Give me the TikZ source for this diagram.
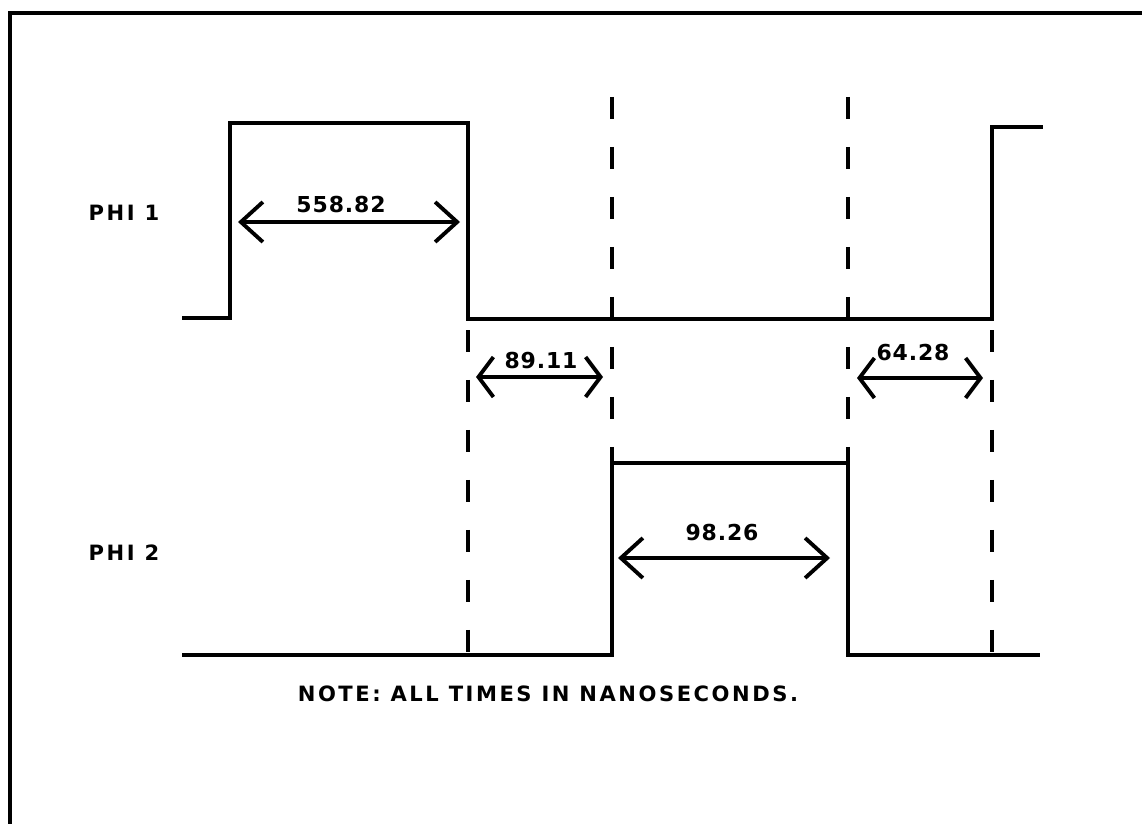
\documentclass[tikz,border=0pt]{standalone}
\usepackage{fontspec}
\newfontfamily\plotfont[LetterSpace=12]{DejaVu Sans}
\newfontfamily\numfont[LetterSpace=4]{DejaVu Sans}
\usetikzlibrary{arrows.meta}

\begin{document}
\begin{tikzpicture}[
    x=0.02cm, y=-0.02cm,
    wave/.style={line width=2.2pt, line join=miter},
    guide/.style={line width=2.2pt, dash pattern=on 0.44cm off 0.56cm},
    dim/.style={line width=2.2pt, {Straight Barb[length=0.44cm,width=0.8cm]}-{Straight Barb[length=0.44cm,width=0.8cm]}},
    dimsmall/.style={line width=2.2pt, {Straight Barb[length=0.3cm,width=0.8cm]}-{Straight Barb[length=0.3cm,width=0.8cm]}},
    lab/.style={font=\plotfont\bfseries\fontsize{12}{14}\selectfont, inner sep=0pt},
    val/.style={font=\numfont\bfseries\fontsize{12.5}{14}\selectfont, inner sep=0pt}
]
    \useasboundingbox (0,0) rectangle (1142,824);
    % Frame
    \draw[line width=2.6pt] (10,824) -- (10,13) -- (1142,13);

    % Waveforms
    \draw[wave] (182,318) -| (230,123) -| (468,319) -| (992,127) -- (1043,127);
    \draw[wave] (182,655) -| (612,463) -| (848,655) -- (1040,655);

    % Guide lines
    \draw[guide] (468,330) -- (468,655);
    \draw[guide] (612,97) -- (612,463);
    \draw[guide] (848,97) -- (848,463);
    \draw[guide] (992,330) -- (992,655);

    % Signal names
    \node[lab] (phi1) at (124,213) {PHI 1};
    \node[lab] (phi2) at (124,553) {PHI 2};

    % Widths
    \coordinate (hi1l) at (238,222);
    \coordinate (hi1r) at (460,222);
    \draw[dim] (hi1l) -- (hi1r);
    \node[val] (hi1) at (341,205) {558.82};

    \coordinate (gap1l) at (476,377);
    \coordinate (gap1r) at (603,377);
    \draw[dimsmall] (gap1l) -- (gap1r);
    \node[val] (gap1) at (541,361) {89.11};

    \coordinate (gap2l) at (857,378);
    \coordinate (gap2r) at (983,378);
    \draw[dimsmall] (gap2l) -- (gap2r);
    \node[val] (gap2) at (913,353) {64.28};

    \coordinate (hi2l) at (618,558);
    \coordinate (hi2r) at (830,558);
    \draw[dim] (hi2l) -- (hi2r);
    \node[val] (hi2) at (722,533) {98.26};

    % Note
    \node[lab] (note) at (548,694) {NOTE: ALL TIMES IN NANOSECONDS.};
\end{tikzpicture}
\end{document}
